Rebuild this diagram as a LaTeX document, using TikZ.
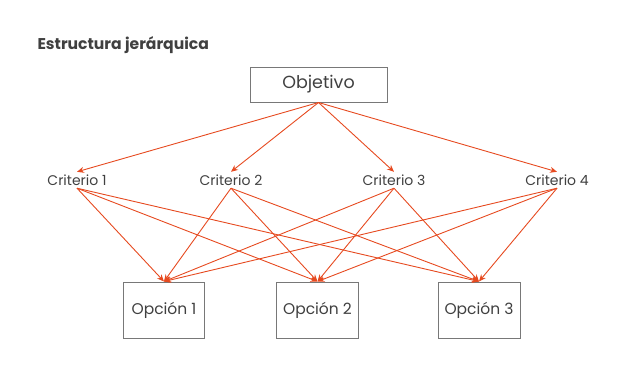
\documentclass[tikz,border=0pt]{standalone}
\usepackage{fontspec}
\setmainfont{Poppins}
\usetikzlibrary{arrows.meta}
\definecolor{arr}{RGB}{230,74,32}
\definecolor{txt}{RGB}{64,64,64}
\definecolor{bx}{RGB}{120,120,120}
\begin{document}
\begin{tikzpicture}[x=1pt,y=-1pt,
  boxnode/.style={draw=bx,line width=1pt,inner sep=0pt,text=txt},
  crit/.style={inner sep=0pt,minimum height=16pt,text=txt,font=\fontsize{14}{16}\selectfont},
  link/.style={draw=arr,line width=0.9pt,-{Stealth[length=7pt,width=6pt]}}]
\useasboundingbox (0,0) rectangle (638,383);
\node[anchor=west,text=txt,font=\bfseries\fontsize{15.6}{18}\selectfont] (title) at (34,45) {Estructura jerárquica};
\node[boxnode,minimum width=137pt,minimum height=35pt,font=\fontsize{17.5}{20}\selectfont] (obj) at (318.5,84.5) {Objetivo};
\node[crit] (c1) at (77,180) {Criterio 1};
\node[crit] (c2) at (231,180) {Criterio 2};
\node[crit] (c3) at (394,180) {Criterio 3};
\node[crit] (c4) at (557,180) {Criterio 4};
\node[boxnode,minimum width=81pt,minimum height=56pt,font=\fontsize{15.5}{18}\selectfont] (o1) at (164,310) {Opción 1};
\node[boxnode,minimum width=82pt,minimum height=56pt,font=\fontsize{15.5}{18}\selectfont] (o2) at (317.5,310) {Opción 2};
\node[boxnode,minimum width=82pt,minimum height=56pt,font=\fontsize{15.5}{18}\selectfont] (o3) at (479,310) {Opción 3};
\foreach \c in {c1,c2,c3,c4}{
  \draw[link] (obj.south) -- (\c.north);
  \foreach \o in {o1,o2,o3}{
    \draw[link] (\c.south) -- (\o.north);
  }
}
\end{tikzpicture}
\end{document}
